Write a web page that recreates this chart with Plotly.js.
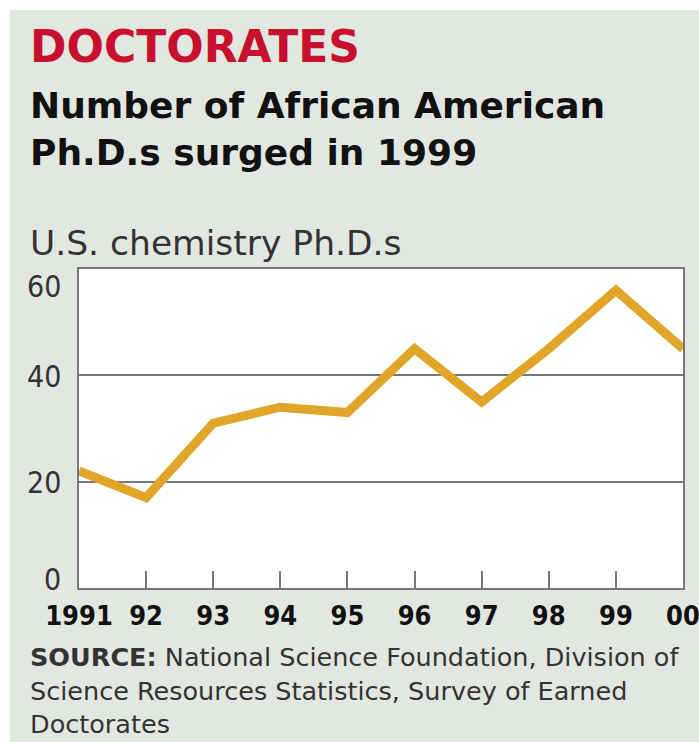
<!DOCTYPE html>
<html>
<head>
<meta charset="utf-8">
<script src="https://cdn.plot.ly/plotly-3.0.1.min.js"></script>
<style>
html,body{margin:0;padding:0;background:#ffffff;width:699px;height:742px;overflow:hidden;}
#chart{position:absolute;left:10px;top:10px;width:689px;height:732px;}
</style>
</head>
<body>
<div id="chart"></div>
<script>
// ---- data ----
const years = [1991, 1992, 1993, 1994, 1995, 1996, 1997, 1998, 1999, 2000];
const phds = [22, 17, 31, 34, 33, 45, 35, 45, 56, 45];
const xTickText = ['1991', '92', '93', '94', '95', '96', '97', '98', '99', '00'];
const yTickVals = [0, 20, 40, 60];
const yTickText = ['0', '20', '40', '60'];

const FONT = '"DejaVu Sans", sans-serif';
const FONTC = '"DejaVu Sans Condensed", "DejaVu Sans", sans-serif';
const OFFX = 10, OFFY = 10, W = 689, H = 732;
const ML = 69, MR = 16, MT = 259, MB = 154;
const PW = W - ML - MR, PH = H - MT - MB;
const px = x => (x - OFFX - ML) / PW;
const py = y => 1 - (y - OFFY - MT) / PH;

const annotations = [];
function txt(text, xPage, yPage, size, color, weight, family) {
  annotations.push({
    text: text, xref: 'paper', yref: 'paper', x: px(xPage), y: py(yPage),
    xanchor: 'left', yanchor: 'middle', showarrow: false,
    font: {family: family || FONT, size: size, color: color, weight: weight || 'normal'}
  });
}
txt('DOCTORATES', 28, 46, 44, '#c8102e', 'bold');
txt('Number of African American', 28, 105, 36, '#111111', 'bold');
txt('Ph.D.s surged in 1999', 28, 153, 36, '#111111', 'bold');
txt('U.S. chemistry Ph.D.s', 28, 243, 34.5, '#333333', 'normal');
txt('<b>SOURCE:</b> National Science Foundation, Division of', 28, 657, 25.5, '#333333');
txt('Science Resources Statistics, Survey of Earned', 28, 691, 25.5, '#333333');
txt('Doctorates', 28, 724, 25.5, '#333333');

// y tick labels placed on the y scale
const yShift = {0: 9, 20: -1, 40: -1, 60: -17};
yTickVals.forEach((v, i) => {
  annotations.push({
    text: yTickText[i], xref: 'paper', yref: 'y', x: px(63), y: v,
    xanchor: 'right', yanchor: 'middle', yshift: yShift[v],
    showarrow: false,
    font: {family: FONTC, size: 30, color: '#333333'}
  });
});

const trace = {
  x: years, y: phds, type: 'scatter', mode: 'lines',
  line: {color: '#e1a52a', width: 9, shape: 'linear'},
  hoverinfo: 'skip', cliponaxis: true
};

const layout = {
  width: W, height: H,
  margin: {l: ML, r: MR, t: MT, b: MB, pad: 0},
  paper_bgcolor: '#e3e7e1', plot_bgcolor: '#ffffff',
  showlegend: false,
  xaxis: {
    range: [1991, 2000], tickvals: years, ticktext: xTickText,
    ticks: 'inside', ticklen: 17, tickwidth: 2, tickcolor: '#777777',
    showgrid: false, zeroline: false, showline: true, linecolor: '#777777', linewidth: 2,
    mirror: true, ticklabelstandoff: 3, ticklabeloverflow: 'allow',
    tickfont: {family: FONTC, size: 27, color: '#111111', weight: 'bold'},
    fixedrange: true
  },
  yaxis: {
    range: [0, 60], tickvals: yTickVals, showticklabels: false,
    showgrid: true, gridcolor: '#777777', gridwidth: 2,
    zeroline: false, showline: true, linecolor: '#777777', linewidth: 2, mirror: true,
    ticks: '', fixedrange: true
  },
  annotations: annotations
};

Plotly.newPlot('chart', [trace], layout, {displayModeBar: false, staticPlot: true});
</script>
</body>
</html>
